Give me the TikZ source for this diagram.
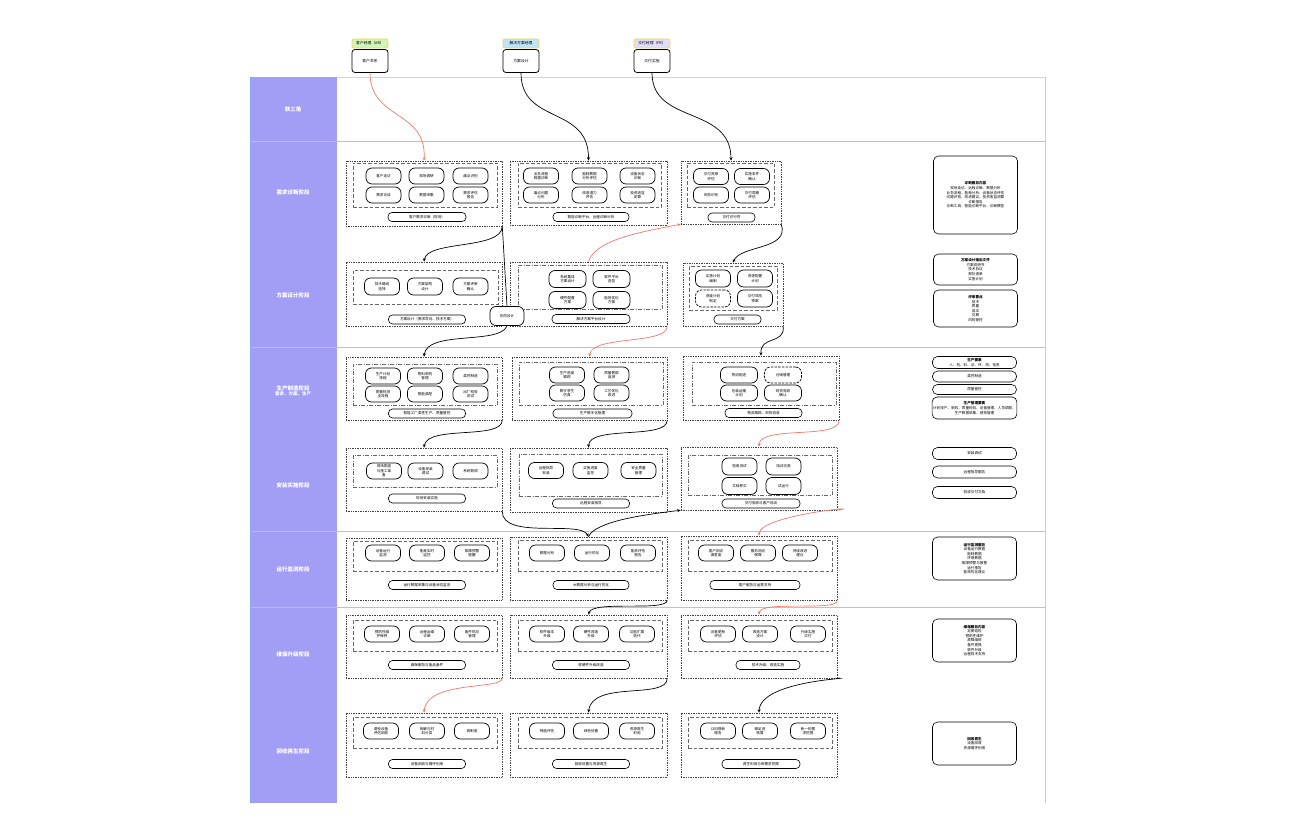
\documentclass[tikz,border=0pt]{standalone}
\usepackage{fontspec}
\newfontfamily\cjk{Noto Sans CJK SC}
\usetikzlibrary{arrows.meta,fit}
\definecolor{lanecol}{RGB}{162,157,245}
\definecolor{laneline}{RGB}{140,165,240}
\definecolor{redc}{RGB}{240,120,105}
\definecolor{tagyel}{RGB}{242,212,80}
\definecolor{tagg}{RGB}{212,245,185}
\definecolor{tagb}{RGB}{190,228,248}
\definecolor{tagp}{RGB}{226,222,250}
\tikzset{
  outer/.style={draw=black!75, line width=0.55pt, dash pattern=on 0.6pt off 1.1pt, inner sep=0pt},
  inner/.style={draw=black!60, line width=0.6pt, dash pattern=on 4pt off 1.5pt on 1pt off 1.5pt, inner sep=0pt},
  innerd/.style={draw=black!60, line width=0.6pt, dash pattern=on 3.5pt off 2pt, inner sep=0pt},
  pill/.style={draw, line width=0.7pt, rounded corners=6pt, minimum width=35pt, minimum height=16pt, inner sep=0.3pt, align=center, font=\cjk\fontsize{3.6}{4.4}\selectfont},
  dpill/.style={pill, dash pattern=on 2.5pt off 1.2pt},
  lbl/.style={draw, line width=0.6pt, rounded corners=4pt, minimum height=9pt, inner sep=0pt, font=\cjk\fontsize{3.6}{4.4}\selectfont},
  note/.style={draw, line width=0.6pt, rounded corners=5pt, minimum width=84pt, inner sep=1pt, align=center, font=\cjk\fontsize{3.6}{4.6}\selectfont},
  lanetxt/.style={text=white, align=center, font=\cjk\bfseries\fontsize{5.5}{6.5}\selectfont},
  tag/.style={draw=tagyel, line width=0.7pt, rounded corners=2pt, minimum width=36pt, minimum height=9pt, inner sep=0pt, font=\cjk\fontsize{3.8}{4.4}\selectfont},
  hbox/.style={draw, line width=0.8pt, rounded corners=3pt, minimum width=36pt, minimum height=23pt, inner sep=0pt, font=\cjk\fontsize{3.8}{4.4}\selectfont},
  conn/.style={line width=0.7pt, -{Stealth[length=3.5pt,width=3pt]}},
  rconn/.style={conn, draw=redc},
}
\newcommand\mkgrp[6]{\node[#2, fit={(#3,#4) (#5,#6)}] (#1) {};}
\begin{document}
\begin{tikzpicture}[x=1pt,y=-1pt]
\useasboundingbox (0,0) rectangle (1296,840);
% swimlane frame
\fill[lanecol] (250,77) rectangle (337,803);
\draw[black!20, line width=0.6pt] (1045,77) -- (1045,803);
\draw[laneline!50, line width=0.6pt] (337,77) -- (1045,77);
\foreach \yy in {141,347,531,607} \draw[laneline!70, line width=0.6pt] (250,\yy) -- (1045,\yy);
\draw[laneline, line width=0.6pt] (250,77) -- (250,803);
\node[lanetxt] (ln0) at (293,109) {铁三角};
\node[lanetxt] (ln1) at (293,192) {需求诊断阶段};
\node[lanetxt] (ln2) at (293,295) {方案设计阶段};
\node[lanetxt] (ln3) at (293,391) {生产制造阶段\\[-1pt]{\fontsize{4.5}{5}\selectfont 需求、方案、生产}};
\node[lanetxt] (ln4) at (293,485) {安装实施阶段};
\node[lanetxt] (ln5) at (293,569) {运行监测阶段};
\node[lanetxt] (ln6) at (293,654) {维保升级阶段};
\node[lanetxt] (ln7) at (293,751) {回收再生阶段};
% headers
\node[tag, fill=tagg] (t1) at (370,43.5) {客户经理（AR）};
\node[hbox] (h1) at (370,61) {客户关系};
\node[tag, fill=tagb] (t2) at (521,43.5) {解决方案经理};
\node[hbox] (h2) at (521,61) {方案设计};
\node[tag, fill=tagp] (t3) at (652,43.5) {交付经理（FR）};
\node[hbox] (h3) at (652,61) {交付实施};

% ---------- Row 1 ----------
\mkgrp{g11}{outer}{346}{161}{502}{226}
\mkgrp{i11}{innerd}{353}{163}{497}{207}
\node[pill] (p111) at (383.5,176) {客户走访};
\node[pill] (p112) at (426.5,176) {现场调研};
\node[pill] (p113) at (470.5,176) {痛点识别};
\node[pill] (p114) at (383.5,195) {需求访谈};
\node[pill] (p115) at (426.5,195) {数据采集};
\node[pill] (p116) at (470.5,195) {需求评估\\报告};
\node[lbl, minimum width=78pt] (l11) at (427,217) {客户需求诊断（现场）};

\mkgrp{g12}{outer}{510}{161}{667}{225}
\mkgrp{i12}{innerd}{518}{163}{661}{207}
\node[pill] (p121) at (541,176) {业务流程\\梳理诊断};
\node[pill] (p122) at (589.5,176) {能耗数据\\分析评估};
\node[pill] (p123) at (637.5,176) {设备状态\\诊断};
\node[pill] (p124) at (541,195) {痛点问题\\分析};
\node[pill] (p125) at (589.5,195) {改造潜力\\评估};
\node[pill] (p126) at (637.5,195) {投资收益\\测算};
\node[lbl, minimum width=76pt] (l12) at (591,217) {智能诊断平台、远程诊断分析};

\mkgrp{g13}{outer}{681}{161}{781}{224}
\mkgrp{i13}{innerd}{687}{163}{774}{207}
\node[pill] (p131) at (711,176.5) {交付资源\\评估};
\node[pill] (p132) at (752,176.5) {实施条件\\确认};
\node[pill] (p133) at (711,195) {风险识别};
\node[pill] (p134) at (752,195) {交付周期\\评估};
\node[lbl, minimum width=47pt] (l13) at (731.5,217.5) {交付可行性};

% ---------- Row 2 ----------
\mkgrp{g21}{outer}{346}{262}{502}{326}
\mkgrp{i21}{innerd}{353}{270}{498}{304}
\node[pill, minimum height=17pt] (p211) at (382,286.5) {技术路线\\选择};
\node[pill, minimum height=17pt] (p212) at (425,286.5) {方案架构\\设计};
\node[pill, minimum height=17pt] (p213) at (470.5,286.5) {方案评审\\确认};
\node[lbl, minimum width=77pt] (l21) at (427,319.5) {方案设计（需求导向、技术方案）};

\mkgrp{g22}{outer}{510}{262}{667}{326}
\mkgrp{i22}{inner}{518}{265}{662}{309}
\node[pill, minimum width=37pt, minimum height=17pt] (p221) at (567.5,279) {系统集成\\方案设计};
\node[pill, minimum width=37pt, minimum height=17pt] (p222) at (611.5,279) {软件平台\\选型};
\node[pill, minimum width=37pt, minimum height=17pt] (p223) at (567.5,300) {硬件配置\\方案};
\node[pill, minimum width=37pt, minimum height=17pt] (p224) at (611.5,300) {能效优化\\方案};
\node[lbl, minimum width=78pt] (l22) at (591,319) {解决方案平台设计};

\mkgrp{g23}{outer}{683}{263}{783}{326}
\mkgrp{i23}{innerd}{689}{266}{777}{310}
\node[pill, minimum height=17pt] (p231) at (713,278.5) {实施计划\\编制};
\node[pill, minimum height=17pt] (p232) at (755,278.5) {资源配置\\计划};
\node[dpill, minimum height=17pt] (p233) at (713,298.5) {进度计划\\制定};
\node[pill, minimum height=17pt] (p234) at (755,298.5) {交付风险\\预案};
\node[lbl, minimum width=47pt] (l23) at (737.5,319.5) {交付方案};

\node[pill, minimum width=34pt, minimum height=19pt, fill=white] (bub) at (507,316) {协同设计};

% ---------- Row 3 ----------
\mkgrp{g31}{outer}{346}{357}{502}{420}
\mkgrp{i31}{inner}{353}{364}{497}{405}
\node[pill] (p311) at (383,376) {生产计划\\排程};
\node[pill] (p312) at (425,376) {物料采购\\管理};
\node[pill] (p313) at (470.5,376) {柔性制造};
\node[pill] (p314) at (383,394) {质量检测\\全流程};
\node[pill] (p315) at (425,394) {智能装配};
\node[pill] (p316) at (470.5,394) {出厂检验\\测试};
\node[lbl, minimum width=77pt] (l31) at (427,413.5) {智能工厂柔性生产、质量管控};

\mkgrp{g32}{outer}{512}{357}{667}{420}
\mkgrp{i32}{inner}{519}{362}{663}{405}
\node[pill] (p321) at (567,375) {生产进度\\跟踪};
\node[pill] (p322) at (611.5,375) {质量数据\\追溯};
\node[pill] (p323) at (567,393) {数字孪生\\仿真};
\node[pill] (p324) at (611.5,393) {工艺优化\\改进};
\node[lbl, minimum width=79pt] (l32) at (592.5,413.5) {生产数字化管理};

\mkgrp{g33}{outer}{683}{356}{839}{420}
\mkgrp{i33}{inner}{692}{362}{836}{405}
\node[pill, minimum width=37pt] (p331) at (739,375) {物流配送};
\node[dpill, minimum width=37pt] (p332) at (783,375) {仓储管理};
\node[pill, minimum width=37pt] (p333) at (739,393) {包装运输\\计划};
\node[pill, minimum width=37pt] (p334) at (783,393) {到货验收\\确认};
\node[lbl, minimum width=77pt] (l33) at (763.5,413) {物流跟踪、到货验收};

% ---------- Row 4 ----------
\mkgrp{g41}{outer}{346}{448}{502}{511}
\mkgrp{i41}{inner}{353}{455}{497}{487}
\node[pill] (p411) at (384,471) {现场勘查\\与施工准\\备};
\node[pill] (p412) at (425.5,471) {设备安装\\调试};
\node[pill] (p413) at (470.5,471) {系统联调};
\node[lbl, minimum width=77pt] (l41) at (427,498.5) {现场安装实施};

\mkgrp{g42}{outer}{510}{448}{667}{512}
\mkgrp{i42}{inner}{519}{454}{662}{496}
\node[pill] (p421) at (546,470.5) {远程指导\\安装};
\node[pill] (p422) at (590.5,470.5) {实施进度\\监控};
\node[pill] (p423) at (638.5,470.5) {安全质量\\管理};
\node[lbl, minimum width=77pt] (l42) at (591,503.5) {远程安装指导};

\mkgrp{g43}{outer}{681}{447}{837}{510}
\mkgrp{i43}{inner}{688}{455}{832}{495}
\node[pill, minimum height=17pt] (p431) at (739.5,466.5) {验收测试};
\node[pill, minimum height=17pt] (p432) at (783.5,466.5) {培训交底};
\node[pill, minimum height=17pt] (p433) at (739.5,486) {文档移交};
\node[pill, minimum height=17pt] (p434) at (783.5,486) {试运行};
\node[lbl, minimum width=78pt] (l43) at (761,503.5) {交付验收与客户培训};

% ---------- Row 5 ----------
\mkgrp{g51}{outer}{346}{538}{502}{600}
\mkgrp{i51}{innerd}{353}{541}{497}{571}
\node[pill] (p511) at (383,553) {设备运行\\监测};
\node[pill] (p512) at (427,553) {能耗实时\\监控};
\node[pill] (p513) at (472,553) {故障预警\\提醒};
\node[lbl, minimum width=77pt] (l51) at (427,585) {运行数据采集与设备状态监测};

\mkgrp{g52}{outer}{510}{537}{667}{600}
\mkgrp{i52}{innerd}{518}{540}{662}{571}
\node[pill] (p521) at (547,553) {数据分析};
\node[pill] (p522) at (592,553) {运行优化};
\node[pill] (p523) at (638,553) {能效评估\\报告};
\node[lbl, minimum width=76pt] (l52) at (591,585) {大数据分析与运行优化};

\mkgrp{g53}{outer}{681}{536}{837}{600}
\mkgrp{i53}{innerd}{688}{540}{832}{571}
\node[pill] (p531) at (716,553) {客户回访\\满意度};
\node[pill] (p532) at (758,553) {服务响应\\保障};
\node[pill] (p533) at (800,553) {持续改进\\建议};
\node[lbl, minimum width=90pt] (l53) at (755,585) {客户服务与运营支持};

% ---------- Row 6 ----------
\mkgrp{g61}{outer}{346}{615}{502}{678}
\mkgrp{i61}{innerd}{353}{620}{497}{651}
\node[pill] (p611) at (382,634) {预防性维\\护保养};
\node[pill] (p612) at (427,634) {远程运维\\诊断};
\node[pill] (p613) at (472,634) {备件供应\\管理};
\node[lbl, minimum width=77pt] (l61) at (427,665) {维保服务与备品备件};

\mkgrp{g62}{outer}{510}{615}{667}{678}
\mkgrp{i62}{innerd}{518}{620}{662}{651}
\node[pill] (p621) at (547,634) {软件版本\\升级};
\node[pill] (p622) at (591,634) {硬件改造\\升级};
\node[pill] (p623) at (637,634) {功能扩展\\迭代};
\node[lbl, minimum width=77pt] (l62) at (591,665) {软硬件升级改造};

\mkgrp{g63}{outer}{681}{615}{837}{678}
\mkgrp{i63}{innerd}{688}{620}{832}{651}
\node[pill] (p631) at (718,634) {设备更新\\评估};
\node[pill] (p632) at (760,634) {改造方案\\设计};
\node[pill] (p633) at (808,634) {升级实施\\交付};
\node[lbl, minimum width=64pt] (l63) at (768,665) {技术升级、改造实施};

% ---------- Row 7 ----------
\mkgrp{g71}{outer}{346}{713}{502}{777}
\mkgrp{i71}{innerd}{353}{717}{497}{748}
\node[pill] (p711) at (381,731) {退役设备\\评估回收};
\node[pill] (p712) at (427,731) {拆解与材\\料分类};
\node[pill] (p713) at (472,731) {再制造};
\node[lbl, minimum width=77pt] (l71) at (427,764) {设备回收与循环利用};

\mkgrp{g72}{outer}{510}{713}{667}{777}
\mkgrp{i72}{innerd}{518}{717}{662}{748}
\node[pill] (p721) at (547,731) {残值评估};
\node[pill] (p722) at (591,731) {绿色处置};
\node[pill] (p723) at (637,731) {资源再生\\利用};
\node[lbl, minimum width=77pt] (l72) at (591,764) {回收处置与资源再生};

\mkgrp{g73}{outer}{681}{713}{837}{777}
\mkgrp{i73}{innerd}{688}{717}{832}{748}
\node[pill] (p731) at (718,731) {以旧换新\\服务};
\node[pill] (p732) at (760,731) {碳足迹\\核算};
\node[pill] (p733) at (808,731) {新一轮需\\求挖掘};
\node[lbl, minimum width=78pt] (l73) at (761,764) {再生利用与新需求挖掘};

% ---------- right notes ----------
\node[note, minimum height=78pt] (nA) at (975.5,195) {{\bfseries 诊断服务内容}\\现场走访、远程诊断、数据分析\\业务流程、能耗分析、设备状态评估\\问题识别、改进建议、投资收益测算\\诊断报告\\诊断工具：智能诊断平台、诊断模型};
\node[note, minimum height=31pt] (nB) at (975.5,269.5) {{\bfseries 方案设计输出文件}\\方案说明书\\技术协议\\报价清单\\实施计划};
\node[note, minimum height=37pt] (nC) at (975.5,308.5) {{\bfseries 评审要点}\\技术\\质量\\成本\\交期\\风险管控};
\node[note, minimum height=12pt] (nD) at (974.5,362.5) {{\bfseries 生产要素}\\人、机、料、法、环、测、信息};
\node[note, minimum height=11pt] (nE) at (974.5,376.5) {柔性制造};
\node[note, minimum height=10pt] (nF) at (974.5,389.5) {质量管控};
\node[note, minimum height=22pt] (nG) at (974.5,408) {{\bfseries 生产管理要素}\\计划排产、采购、质量检验、设备管理、人员调配、\\生产数据采集、绩效管理};
\node[note, minimum height=12pt] (nH) at (974.5,453.5) {安装调试};
\node[note, minimum height=12pt] (nI) at (974.5,472) {远程指导服务};
\node[note, minimum height=12pt] (nJ) at (974.5,492.5) {验收交付文档};
\node[note, minimum height=43pt] (nK) at (974.5,558.5) {{\bfseries 运行监测服务}\\设备运行数据\\能耗数据\\环境数据\\故障预警与报警\\运行报告\\能效优化建议};
\node[note, minimum height=43pt] (nL) at (974.5,640.5) {{\bfseries 维保服务内容}\\定期巡检\\预防性维护\\故障维修\\备件更换\\软件升级\\远程技术支持};
\node[note, minimum height=43pt] (nM) at (974.5,743.5) {{\bfseries 回收再生}\\设备回收\\资源循环利用};

% ---------- connectors ----------
\draw[rconn] (h1.south) .. controls (370,120) and (427,110) .. (g11.north);
\draw[conn] (h2.south) .. controls (521,125) and (589,105) .. (g12.north);
\draw[conn] (h3.south) .. controls (652,125) and (731,105) .. (g13.north);
\draw[conn] (g11.south east) .. controls (502,250) and (427,240) .. (g21.north);
\draw[line width=0.7pt] (g11.south east) -- (bub.north);
\draw[conn] (bub.south) .. controls (500,345) and (427,330) .. (g31.north);
\draw[rconn] (g22.north) .. controls (595,240) and (640,232) .. (g13.south west);
\draw[conn] (g13.south east) .. controls (790,250) and (740,245) .. (g23.north);
\draw[rconn] (g22.south east) .. controls (667,345) and (592,335) .. (g32.north);
\draw[conn] (g23.south east) .. controls (785,345) and (760,335) .. (g33.north);
\draw[conn] (g31.south east) .. controls (502,440) and (427,425) .. (g41.north);
\draw[conn] (g32.south east) .. controls (667,440) and (589,425) .. (g42.north);
\draw[rconn] (g33.south east) .. controls (839,440) and (760,425) .. (g43.north);
\draw[conn] (g52.north) .. controls (595,522) and (640,515) .. (g43.south west);
\draw[rconn] (g43.south east) .. controls (870,505) and (760,515) .. (g53.north);
\draw[conn] (g41.south east) .. controls (502,540) and (580,520) .. (g52.north);
\draw[conn] (g52.south east) .. controls (667,612) and (592,600) .. (g62.north);
\draw[rconn] (g53.south east) .. controls (839,612) and (760,600) .. (g63.north);
\draw[rconn] (g61.south east) .. controls (502,690) and (427,680) .. (g71.north);
\draw[conn] (g62.south east) .. controls (667,700) and (592,680) .. (g72.north);
\draw[conn] (g63.south east) .. controls (860,678) and (760,680) .. (g73.north);
\end{tikzpicture}
\end{document}
